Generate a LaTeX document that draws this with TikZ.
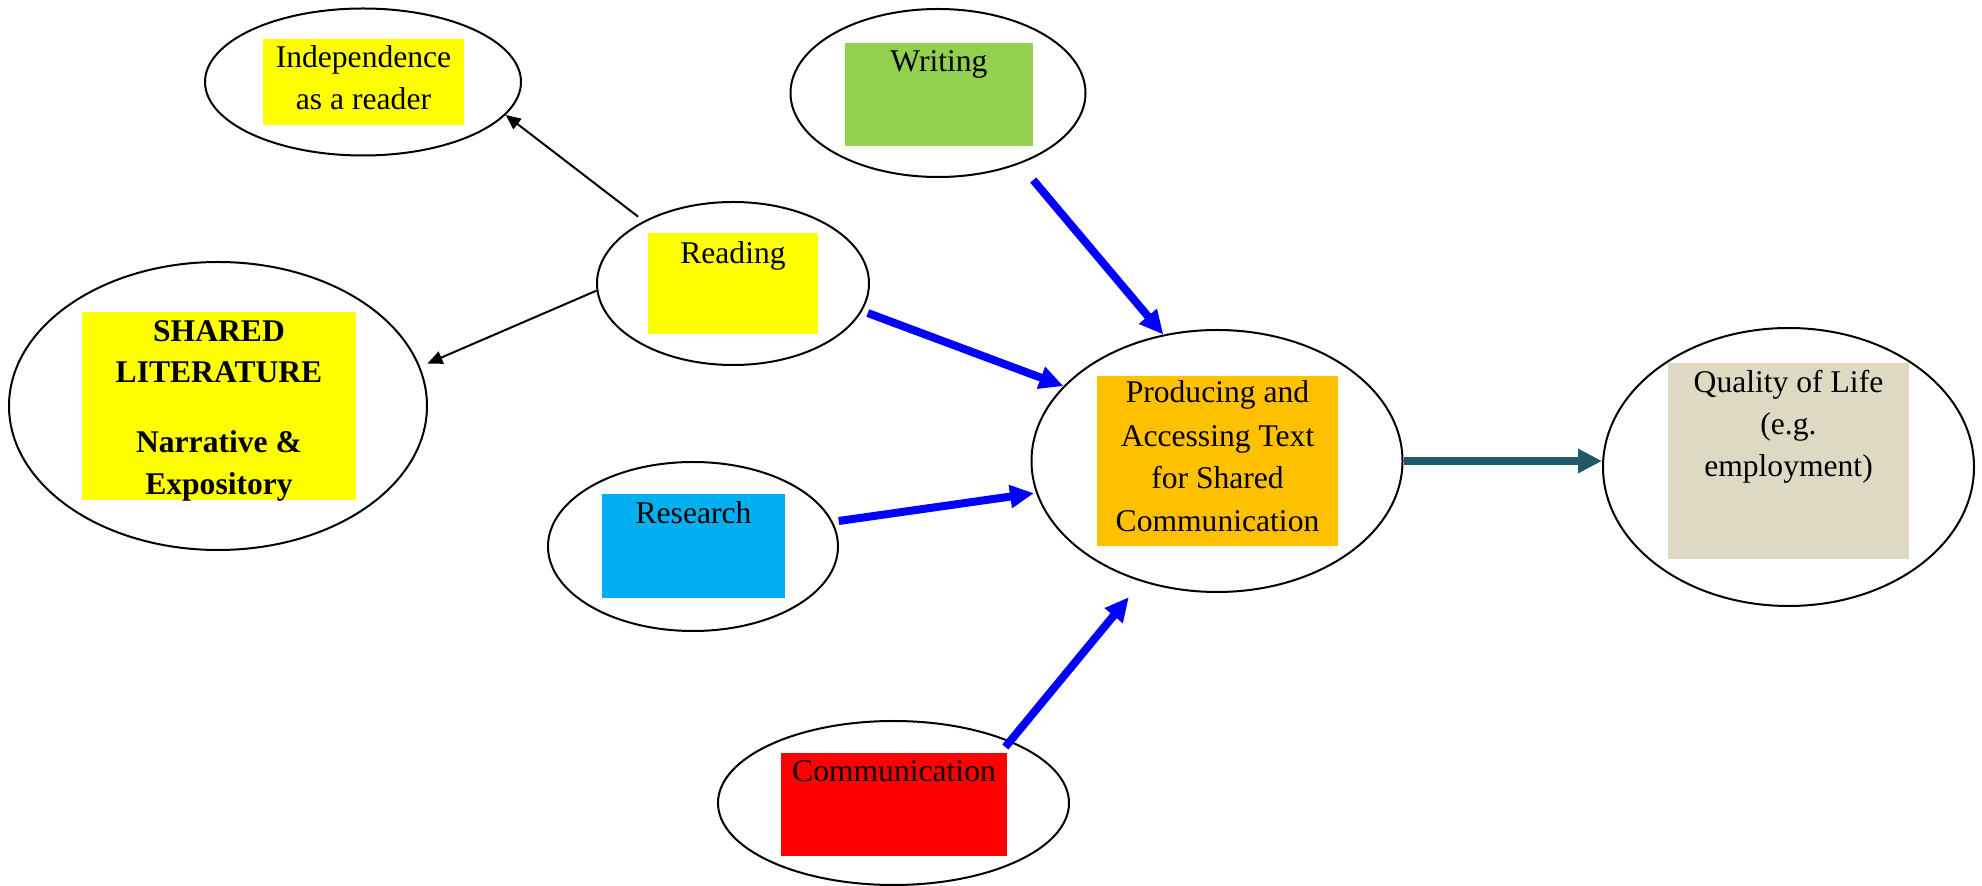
\documentclass[tikz,border=0pt]{standalone}
\usepackage{fontspec}
\setmainfont{Liberation Serif}
\usetikzlibrary{shapes.geometric,arrows.meta}
\definecolor{cyellow}{HTML}{FFFF00}
\definecolor{cgreen}{HTML}{92D050}
\definecolor{corange}{HTML}{FFC000}
\definecolor{ccyan}{HTML}{00B0F0}
\definecolor{cred}{HTML}{FF0000}
\definecolor{cbeige}{HTML}{DDD9C3}
\definecolor{cblue}{HTML}{0000FF}
\definecolor{cteal}{HTML}{215968}
\begin{document}
\begin{tikzpicture}[x=0.5pt,y=-0.5pt,
  oval/.style={draw=black, line width=1pt, ellipse, inner sep=0pt},
  panel/.style={rectangle, inner sep=0pt, draw=none},
  lbl/.style={inner sep=0pt, anchor=base, font=\fontsize{15.8}{21}\selectfont},
  blbl/.style={inner sep=0pt, anchor=base, font=\fontsize{15.8}{21}\selectfont\bfseries},
  blackarrow/.style={draw=black, line width=1pt, -{Triangle[length=7.5pt,width=6.5pt]}},
  bluearrow/.style={draw=cblue, line width=4pt, -{Triangle[length=12pt,width=11pt]}},
  tealarrow/.style={draw=cteal, line width=4pt, -{Triangle[length=12pt,width=11.5pt]}}
]
\useasboundingbox (0,0) rectangle (1982,886);

% ellipses
\node[oval, minimum width=158pt, minimum height=73.5pt] (indep) at (363,82) {};
\node[oval, minimum width=136pt, minimum height=81.5pt] (reading) at (733,283.5) {};
\node[oval, minimum width=209pt, minimum height=144pt] (shared) at (218,406) {};
\node[oval, minimum width=147.5pt, minimum height=84pt] (writing) at (938,93) {};
\node[oval, minimum width=185.5pt, minimum height=131pt] (producing) at (1217,461) {};
\node[oval, minimum width=185.5pt, minimum height=139pt] (quality) at (1788.5,467) {};
\node[oval, minimum width=145pt, minimum height=84.5pt] (research) at (693,546.5) {};
\node[oval, minimum width=175.5pt, minimum height=82pt] (comm) at (893.5,803) {};

% coloured panels
\node[panel, fill=cyellow, minimum width=100.5pt, minimum height=43pt] (indepbox) at (363.5,82) {};
\node[panel, fill=cyellow, minimum width=85pt, minimum height=50.5pt] (readbox) at (733,283.5) {};
\node[panel, fill=cyellow, minimum width=137pt, minimum height=94pt] (sharedbox) at (219,406) {};
\node[panel, fill=cgreen, minimum width=94pt, minimum height=51.5pt] (writebox) at (939,94.5) {};
\node[panel, fill=corange, minimum width=120.5pt, minimum height=85pt] (prodbox) at (1217.5,461) {};
\node[panel, fill=cbeige, minimum width=120.5pt, minimum height=98pt] (qualbox) at (1788.5,461) {};
\node[panel, fill=ccyan, minimum width=91.5pt, minimum height=52pt] (resbox) at (693.5,546) {};
\node[panel, fill=cred, minimum width=113pt, minimum height=51.5pt] (commbox) at (894,804.5) {};

% labels
\node[lbl] (indepA) at (363.5,68) {Independence};
\node[lbl] (indepB) at (363.5,110) {as a reader};
\node[lbl] (readT) at (733,264) {Reading};
\node[blbl] (sharedA) at (219,342) {SHARED};
\node[blbl] (sharedB) at (219,383) {LITERATURE};
\node[blbl] (sharedC) at (219,453) {Narrative \&};
\node[blbl] (sharedD) at (219,495) {Expository};
\node[lbl] (writeT) at (939,72) {Writing};
\node[lbl] (prodA) at (1217.5,403) {Producing and};
\node[lbl] (prodB) at (1217.5,447) {Accessing Text};
\node[lbl] (prodC) at (1217.5,489) {for Shared};
\node[lbl] (prodD) at (1217.5,532) {Communication};
\node[lbl] (qualA) at (1788.5,393) {Quality of Life};
\node[lbl] (qualB) at (1788.5,435) {(e.g.};
\node[lbl] (qualC) at (1788.5,477) {employment)};
\node[lbl] (resT) at (693.5,524) {Research};
\node[lbl] (commT) at (894,782) {Communication};

% connectors
\draw[blackarrow, shorten <=3.5pt] (reading.145) -- (indep.-13);
\draw[blackarrow, shorten >=4pt] (reading.183) -- (shared.11);
\draw[bluearrow, shorten <=3pt] (reading.-12) -- (producing.154);
\draw[bluearrow, shorten <=10.5pt] (writing.-41.5) -- (producing.113);
\draw[bluearrow, shorten <=3pt, shorten >=1pt] (research.10) -- (producing.190);
\draw[bluearrow, shorten <=-4pt, shorten >=10pt] (comm.28.4) -- (producing.238.5);
\draw[tealarrow] (producing.east) -- (producing.east -| quality.west);
\end{tikzpicture}
\end{document}
